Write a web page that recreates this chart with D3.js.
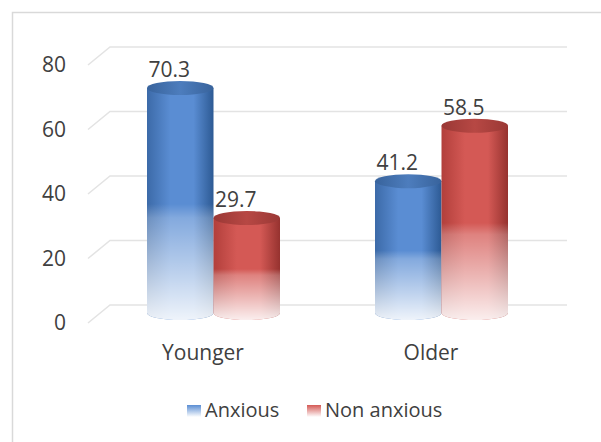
<!DOCTYPE html>
<meta charset="utf-8">
<html>
<head>
<style>
  body { margin: 0; background: #fff; }
  text { font-family: "Open Sans", sans-serif; fill: #404040; }
</style>
</head>
<body>
<div id="chart"></div>
<script src="https://cdn.jsdelivr.net/npm/d3@7"></script>
<script>
// data
var categories = ["Younger", "Older"];
var series = ["Anxious", "Non anxious"];
var anxious = [70.3, 41.2];
var nonAnxious = [29.7, 58.5];
var yTicks = [0, 20, 40, 60, 80];

var width = 601, height = 442;
var depthX = 22, depthY = 18;   // 3d offset between front and back wall

var svg = d3.select("#chart").append("svg")
  .attr("width", width)
  .attr("height", height);

// chart border
svg.append("rect")
  .attr("x", 12.5).attr("y", 12.5)
  .attr("width", 620).attr("height", 460)
  .attr("fill", "none")
  .attr("stroke", "#d9d9d9")
  .attr("stroke-width", 1.5);

// scales
var yBack = d3.scaleLinear().domain([0, 80]).range([305, 47]);
var yBar = d3.scaleLinear().domain([0, 80]).range([313, 57]);
var x0 = d3.scaleBand().domain(categories).range([99, 555]);
var x1 = d3.scaleBand().domain(series).range([48, 181]);

var colors = {
  "Anxious": { left: "#3c6aa8", mid: "#5a8dd3", right: "#2d5a94", top: "#38639c", topLight: "#4d7dbd" },
  "Non anxious": { left: "#b23f3b", mid: "#d45955", right: "#96322f", top: "#9a3835", topLight: "#b74844" }
};

var defs = svg.append("defs");
series.forEach(function(s, i) {
  var c = colors[s];
  var g = defs.append("linearGradient").attr("id", "body" + i)
    .attr("x1", 0).attr("x2", 1).attr("y1", 0).attr("y2", 0);
  g.append("stop").attr("offset", "0%").attr("stop-color", c.left);
  g.append("stop").attr("offset", "35%").attr("stop-color", c.mid);
  g.append("stop").attr("offset", "70%").attr("stop-color", c.mid);
  g.append("stop").attr("offset", "100%").attr("stop-color", c.right);

  var t = defs.append("linearGradient").attr("id", "top" + i)
    .attr("x1", 0).attr("x2", 1).attr("y1", 0).attr("y2", 0);
  t.append("stop").attr("offset", "0%").attr("stop-color", c.top);
  t.append("stop").attr("offset", "50%").attr("stop-color", c.topLight);
  t.append("stop").attr("offset", "100%").attr("stop-color", c.top);

  // legend swatch
  var l = defs.append("linearGradient").attr("id", "leg" + i)
    .attr("x1", 0).attr("x2", 0).attr("y1", 0).attr("y2", 1);
  l.append("stop").attr("offset", "0%").attr("stop-color", c.mid);
  l.append("stop").attr("offset", "100%").attr("stop-color", "#fff");
});

// white fade towards the bottom of each cylinder
var fade = defs.append("linearGradient").attr("id", "fade")
  .attr("x1", 0).attr("x2", 0).attr("y1", 0).attr("y2", 1);
fade.append("stop").attr("offset", "0%").attr("stop-color", "#fff").attr("stop-opacity", 0);
fade.append("stop").attr("offset", "50%").attr("stop-color", "#fff").attr("stop-opacity", 0);
fade.append("stop").attr("offset", "56%").attr("stop-color", "#fff").attr("stop-opacity", 0.25);
fade.append("stop").attr("offset", "80%").attr("stop-color", "#fff").attr("stop-opacity", 0.6);
fade.append("stop").attr("offset", "100%").attr("stop-color", "#fff").attr("stop-opacity", 0.9);

// gridlines (floor + back wall)
var grid = svg.append("g");
yTicks.forEach(function(v) {
  var yb = yBack(v);
  grid.append("path")
    .attr("d", "M" + (110 - depthX) + "," + (yb + depthY) + "L110," + yb + "L567," + yb)
    .attr("fill", "none")
    .attr("stroke", "#e3e3e3")
    .attr("stroke-width", 1.5);
  grid.append("text")
    .attr("x", 66)
    .attr("y", yb + depthY)
    .attr("dy", "0.35em")
    .attr("text-anchor", "end")
    .attr("font-size", 21)
    .text(v);
});

// cylinders
var ry = 7;
var rows = [];
categories.forEach(function(cat, ci) {
  rows.push({ cat: cat, s: series[0], si: 0, v: anxious[ci] });
  rows.push({ cat: cat, s: series[1], si: 1, v: nonAnxious[ci] });
});

var bars = svg.append("g").selectAll("g").data(rows).join("g");

function bodyPath(d) {
  var x = x0(d.cat) + x1(d.s), w = x1.bandwidth(), rx = w / 2;
  var yt = yBar(d.v), yb = yBar(0);
  return "M" + x + "," + yt + "L" + x + "," + yb +
    "A" + rx + "," + ry + " 0 0 0 " + (x + w) + "," + yb +
    "L" + (x + w) + "," + yt + "Z";
}

bars.append("path").attr("d", bodyPath)
  .attr("fill", function(d) { return "url(#body" + d.si + ")"; });
bars.append("path").attr("d", bodyPath).attr("fill", "url(#fade)");
bars.append("ellipse")
  .attr("cx", function(d) { return x0(d.cat) + x1(d.s) + x1.bandwidth() / 2; })
  .attr("cy", function(d) { return yBar(d.v); })
  .attr("rx", x1.bandwidth() / 2)
  .attr("ry", ry)
  .attr("fill", function(d) { return "url(#top" + d.si + ")"; });

// value labels
bars.append("text")
  .attr("x", function(d) { return x0(d.cat) + x1(d.s) + x1.bandwidth() / 2 - 11; })
  .attr("y", function(d) { return yBar(d.v) - 11; })
  .attr("text-anchor", "middle")
  .attr("font-size", 21)
  .text(function(d) { return d.v; });

// category labels
svg.append("g").selectAll("text").data(categories).join("text")
  .attr("x", function(d) { return x0(d) + x0.bandwidth() / 2 - 10; })
  .attr("y", 360)
  .attr("text-anchor", "middle")
  .attr("font-size", 21)
  .text(function(d) { return d; });

// legend
var legX = [187, 307];
var leg = svg.append("g").selectAll("g").data(series).join("g")
  .attr("transform", function(d, i) { return "translate(" + legX[i] + ",405)"; });
leg.append("rect")
  .attr("width", 14).attr("height", 12)
  .attr("fill", function(d, i) { return "url(#leg" + i + ")"; });
leg.append("text")
  .attr("x", 18).attr("y", 12)
  .attr("font-size", 20)
  .text(function(d) { return d; });
</script>
</body>
</html>
